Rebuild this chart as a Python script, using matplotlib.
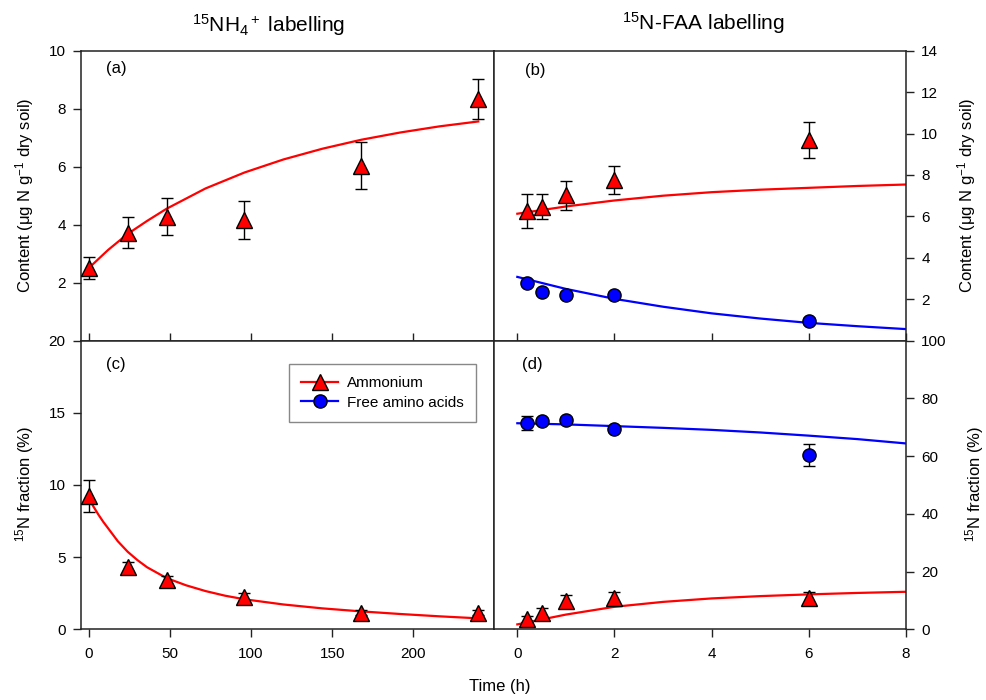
import matplotlib
matplotlib.use('Agg')
import matplotlib.pyplot as plt
from matplotlib.lines import Line2D

plt.rcParams['font.family'] = ['Liberation Sans', 'DejaVu Sans']
plt.rcParams['mathtext.fontset'] = 'custom'
plt.rcParams['mathtext.rm'] = 'Liberation Sans'
plt.rcParams['mathtext.it'] = 'Liberation Sans:italic'

# ---------------- data ----------------
# 15NH4+ labelling (time in h)
t_nh4 = [0, 24, 48, 96, 168, 240]
nh4_content = [2.51, 3.72, 4.28, 4.15, 6.04, 8.33]
nh4_content_err = [0.39, 0.53, 0.65, 0.65, 0.82, 0.70]
nh4_frac = [9.25, 4.35, 3.40, 2.24, 1.16, 1.16]
nh4_frac_err = [1.12, 0.33, 0.30, 0.30, 0.20, 0.20]

# 15N-FAA labelling (time in h)
t_faa = [0.2, 0.5, 1, 2, 6]
amm_content = [6.27, 6.46, 7.01, 7.76, 9.70]
amm_content_err = [0.83, 0.60, 0.72, 0.68, 0.86]
faa_content = [2.79, 2.36, 2.20, 2.20, 0.95]
faa_content_err = [0.15, 0.15, 0.15, 0.15, 0.15]
amm_frac = [3.5, 5.5, 9.9, 10.7, 10.95]
amm_frac_err = [1.0, 2.0, 2.0, 2.1, 1.85]
faa_frac = [71.4, 72.3, 72.5, 69.3, 60.4]
faa_frac_err = [2.4, 1.0, 1.0, 1.0, 3.8]

# fitted curves
fit_t_a = [0, 12, 24, 36, 48, 72, 96, 120, 144, 168, 192, 216, 240]
fit_a = [2.50, 3.13, 3.68, 4.13, 4.55, 5.25, 5.80, 6.25, 6.62, 6.93, 7.18, 7.39, 7.56]
fit_t_c = [0, 3, 6, 9, 12, 18, 24, 30, 36, 48, 60, 72, 84, 96, 120, 144, 168, 192, 216, 240]
fit_c = [9.10, 8.50, 7.95, 7.45, 7.00, 6.10, 5.38, 4.80, 4.30, 3.55, 3.05, 2.65, 2.33,
         2.08, 1.72, 1.45, 1.24, 1.06, 0.90, 0.76]
fit_t_faa = [0, 1, 2, 3, 4, 5, 6, 7, 8]
fit_b_amm = [6.13, 6.48, 6.77, 7.00, 7.17, 7.29, 7.38, 7.47, 7.54]
fit_b_faa = [3.08, 2.50, 2.02, 1.64, 1.32, 1.07, 0.86, 0.70, 0.56]
fit_d_amm = [1.7, 5.1, 7.8, 9.5, 10.7, 11.5, 12.1, 12.6, 13.0]
fit_d_faa = [71.4, 71.0, 70.4, 69.8, 69.1, 68.2, 67.1, 65.9, 64.4]

ticks_left_x = [0, 50, 100, 150, 200]
ticks_right_x = [0, 2, 4, 6, 8]

RED = '#FF0000'
BLUE = '#0000FF'

W, H = 986, 700
fig = plt.figure(figsize=(W / 100, H / 100), dpi=100)

x0, xm, x1 = 81 / W, 494 / W, 906 / W
yt, ymid, yb = 1 - 50.7 / H, 1 - 340.7 / H, 1 - 629.3 / H

ax_a = fig.add_axes([x0, ymid, xm - x0, yt - ymid])
ax_b = fig.add_axes([xm, ymid, x1 - xm, yt - ymid])
ax_c = fig.add_axes([x0, yb, xm - x0, ymid - yb])
ax_d = fig.add_axes([xm, yb, x1 - xm, ymid - yb])

TS = 11


def series(ax, t, y, err, fx, fy, color, marker, ms):
    ax.plot(fx, fy, color=color, lw=1.6, zorder=2)
    ax.errorbar(t, y, yerr=err, fmt='none', ecolor='black', elinewidth=1.0,
                capsize=4, capthick=1.0, zorder=3)
    ax.plot(t, y, ls='none', marker=marker, ms=ms, mfc=color, mec='black',
            mew=1.0, zorder=4)


series(ax_a, t_nh4, nh4_content, nh4_content_err, fit_t_a, fit_a, RED, '^', 11.5)
series(ax_c, t_nh4, nh4_frac, nh4_frac_err, fit_t_c, fit_c, RED, '^', 11.5)
series(ax_b, t_faa, amm_content, amm_content_err, fit_t_faa, fit_b_amm, RED, '^', 11.5)
series(ax_b, t_faa, faa_content, faa_content_err, fit_t_faa, fit_b_faa, BLUE, 'o', 9.5)
series(ax_d, t_faa, amm_frac, amm_frac_err, fit_t_faa, fit_d_amm, RED, '^', 11.5)
series(ax_d, t_faa, faa_frac, faa_frac_err, fit_t_faa, fit_d_faa, BLUE, 'o', 9.5)

for ax in (ax_a, ax_c):
    ax.set_xlim(-4.7, 249.7)
    ax.set_xticks(ticks_left_x)
for ax in (ax_b, ax_d):
    ax.set_xlim(-0.48, 8)
    ax.set_xticks(ticks_right_x)

ax_a.set_ylim(0, 10)
ax_a.set_yticks([2, 4, 6, 8, 10])
ax_c.set_ylim(0, 20)
ax_c.set_yticks([0, 5, 10, 15, 20])
ax_b.set_ylim(0, 14)
ax_b.set_yticks([2, 4, 6, 8, 10, 12, 14])
ax_d.set_ylim(0, 100)
ax_d.set_yticks([0, 20, 40, 60, 80, 100])

for ax in (ax_a, ax_b, ax_c, ax_d):
    for s in ax.spines.values():
        s.set_linewidth(1.1)
        s.set_color('#222222')
    ax.tick_params(labelsize=TS, width=1.0, color='#222222')

for ax in (ax_a, ax_b):
    ax.tick_params(axis='x', direction='in', length=6, labelbottom=False)
for ax in (ax_c, ax_d):
    ax.tick_params(axis='x', direction='out', length=6, pad=7)

for ax in (ax_a, ax_c):
    ax.tick_params(axis='y', direction='out', length=6, pad=5, right=False)
for ax in (ax_b, ax_d):
    ax.yaxis.tick_right()
    ax.tick_params(axis='y', direction='out', length=6, pad=5, left=False)

# panel labels
ax_a.text(0.06, 0.937, '(a)', transform=ax_a.transAxes, fontsize=12, va='center', ha='left')
ax_b.text(0.075, 0.931, '(b)', transform=ax_b.transAxes, fontsize=12, va='center', ha='left')
ax_c.text(0.06, 0.918, '(c)', transform=ax_c.transAxes, fontsize=12, va='center', ha='left')
ax_d.text(0.067, 0.916, '(d)', transform=ax_d.transAxes, fontsize=12, va='center', ha='left')

# titles
fig.text(269 / W, 1 - 25 / H, r'$^{15}$NH$_4$$^+$ labelling', fontsize=15, ha='center', va='center')
fig.text(703 / W, 1 - 23 / H, r'$^{15}$N-FAA labelling', fontsize=15, ha='center', va='center')

# axis labels
content_lbl = r'Content (μg N g$^{-1}$ dry soil)'
frac_lbl = r'$^{15}$N fraction (%)'
fig.text(25 / W, 1 - 195.7 / H, content_lbl, rotation=90, fontsize=12, ha='center', va='center')
fig.text(967 / W, 1 - 195.7 / H, content_lbl, rotation=90, fontsize=12, ha='center', va='center')
fig.text(25 / W, 1 - 484 / H, frac_lbl, rotation=90, fontsize=12, ha='center', va='center')
fig.text(975 / W, 1 - 484 / H, frac_lbl, rotation=90, fontsize=12, ha='center', va='center')
fig.text(500 / W, 1 - 686 / H, 'Time (h)', fontsize=12, ha='center', va='center')

# legend
handles = [
    Line2D([], [], color=RED, lw=1.6, marker='^', ms=11.5, mfc=RED, mec='black', mew=1.0),
    Line2D([], [], color=BLUE, lw=1.6, marker='o', ms=9.5, mfc=BLUE, mec='black', mew=1.0),
]
leg = ax_c.legend(handles, ['Ammonium', 'Free amino acids'], loc='upper left',
                  bbox_to_anchor=(0.504, 0.919), fontsize=11, frameon=True,
                  fancybox=False, edgecolor='#888888', framealpha=1,
                  handlelength=2.4, handletextpad=0.6, labelspacing=0.35,
                  borderpad=0.8, borderaxespad=0)
leg.get_frame().set_linewidth(1.0)

fig.savefig('out.png', dpi=100)
